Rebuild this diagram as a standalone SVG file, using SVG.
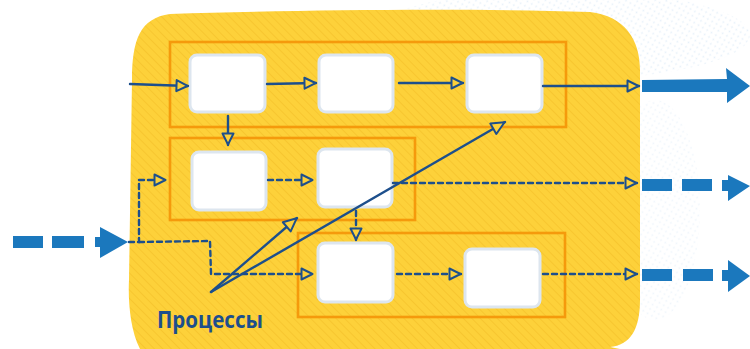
<svg xmlns="http://www.w3.org/2000/svg" width="750" height="349" viewBox="0 0 750 349">
<defs>
<pattern id="hatch" width="6" height="6" patternUnits="userSpaceOnUse" patternTransform="rotate(-45)">
<rect width="6" height="6" fill="#fdd13a"/>
<line x1="0" y1="0" x2="0" y2="6" stroke="#f7c630" stroke-width="2"/>
</pattern>
<pattern id="dots" width="5" height="5" patternUnits="userSpaceOnUse" patternTransform="rotate(30)">
<circle cx="2.5" cy="2.5" r="0.9" fill="#d6e6f5"/>
</pattern>
<marker id="tri" viewBox="0 0 14 14" refX="13" refY="7" markerWidth="14" markerHeight="14" markerUnits="userSpaceOnUse" orient="auto">
<path d="M1.5,1.5 L12.5,7 L1.5,12.5 Z" fill="#fdd13a" stroke="#1d4f8c" stroke-width="2" stroke-linejoin="round"/>
</marker>
<marker id="tri2" viewBox="0 0 16 16" refX="15" refY="8" markerWidth="16" markerHeight="16" markerUnits="userSpaceOnUse" orient="auto">
<path d="M1.5,2 L14.5,8 L1.5,14 Z" fill="#fdd13a" stroke="#1d4f8c" stroke-width="2" stroke-linejoin="round"/>
</marker>
</defs>
<style>
.grp{fill:none;stroke:#f59a0c;stroke-width:2.6}
.box{fill:#ffffff;stroke:#dde6ef;stroke-width:3}
.ln{fill:none;stroke:#1d4f8c;stroke-width:2.4;stroke-linecap:round}
.dash{stroke-dasharray:5 4}
.big{fill:#1b78bd}
.lbl{font-family:"Open Sans","Noto Sans",sans-serif;font-weight:700;font-size:24px;fill:#1d4f8c}
</style>
<rect width="750" height="349" fill="#ffffff"/>
<ellipse cx="560" cy="35" rx="190" ry="45" fill="url(#dots)" opacity="0.6"/>
<ellipse cx="655" cy="210" rx="45" ry="110" fill="url(#dots)" opacity="0.4"/>
<path id="blob" d="M170,14 C300,10 460,8 590,12 C625,16 640,40 640,70 L640,300 C640,330 630,345 610,347 L620,349 L140,349 C130,330 128,300 129,280 L132,80 C132,40 140,18 170,14 Z" fill="url(#hatch)"/>
<g id="group1"><rect class="grp" x="170" y="42" width="396" height="85"/></g>
<g id="group2"><rect class="grp" x="170" y="138" width="245" height="82"/></g>
<g id="group3"><rect class="grp" x="298" y="233" width="267" height="84"/></g>
<g id="nodeA"><rect class="box" x="190" y="55" width="75" height="57" rx="7"/></g>
<g id="nodeB"><rect class="box" x="319" y="55" width="74" height="57" rx="7"/></g>
<g id="nodeC"><rect class="box" x="467" y="55" width="75" height="57" rx="7"/></g>
<g id="nodeD"><rect class="box" x="192" y="152" width="74" height="58" rx="7"/></g>
<g id="nodeE"><rect class="box" x="318" y="149" width="74" height="58" rx="7"/></g>
<g id="nodeF"><rect class="box" x="318" y="243" width="75" height="59" rx="7"/></g>
<g id="nodeG"><rect class="box" x="465" y="249" width="75" height="58" rx="7"/></g>
<g id="connectors">
<path class="ln" d="M130,84 L188,86" marker-end="url(#tri)"/>
<path class="ln" d="M267,84 L316,83" marker-end="url(#tri)"/>
<path class="ln" d="M399,83 L463,83" marker-end="url(#tri)"/>
<path class="ln" d="M543,86 L639,86" marker-end="url(#tri)"/>
<path class="ln" d="M228,116 L228,145" marker-end="url(#tri)"/>
<path class="ln dash" d="M129,242 L139,242 L139,180 L166,180" marker-end="url(#tri)"/>
<path class="ln dash" d="M139,242 L210,241 L211,274 L313,274" marker-end="url(#tri)"/>
<path class="ln dash" d="M268,180 L313,180" marker-end="url(#tri)"/>
<path class="ln dash" d="M393,183 L637,183" marker-end="url(#tri)"/>
<path class="ln dash" d="M356,211 L356,240" marker-end="url(#tri)"/>
<path class="ln dash" d="M397,274 L461,274" marker-end="url(#tri)"/>
<path class="ln dash" d="M543,274 L637,274" marker-end="url(#tri)"/>
<path class="ln" d="M211,292 L297,218" marker-end="url(#tri2)"/>
<path class="ln" d="M211,292 L505,122" marker-end="url(#tri2)"/>
<path class="big" d="M642,80 L727,79 L726,68 L750,86 L727,103 L727,92 L642,92 Z"/>
<path class="big" d="M642,179 L672,179 L672,191 L642,191 Z M682,179 L712,179 L712,191 L682,191 Z M722,180 L728,180 L728,175 L750,186 L728,201 L728,191 L722,191 Z"/>
<path class="big" d="M642,269 L672,269 L672,281 L642,281 Z M683,269 L713,269 L713,281 L683,281 Z M722,270 L728,270 L728,260 L750,276 L728,292 L728,281 L722,281 Z"/>
<path class="big" d="M13,236 L43,236 L43,248 L13,248 Z M52,236 L84,236 L84,248 L52,248 Z M95,237 L100,237 L100,227 L128,242 L100,258 L100,247 L95,247 Z"/>
</g>
<text class="lbl" x="157" y="328" textLength="106" lengthAdjust="spacingAndGlyphs">Процессы</text>
</svg>
